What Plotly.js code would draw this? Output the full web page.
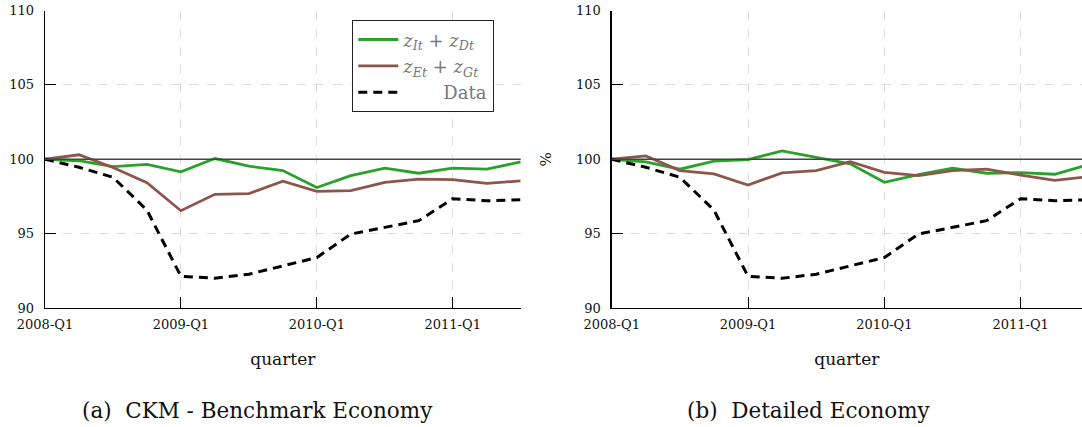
<!DOCTYPE html>
<html>
<head>
<meta charset="utf-8">
<script src="https://cdn.plot.ly/plotly-3.0.1.min.js"></script>
<style>
html,body{margin:0;padding:0;background:#fff;overflow:hidden;}
#chart{width:1082px;height:427px;}
</style>
</head>
<body>
<div id="chart"></div>
<script>
// ---- data ----
const quarters = ['2008-Q1','2008-Q2','2008-Q3','2008-Q4','2009-Q1','2009-Q2','2009-Q3','2009-Q4',
                  '2010-Q1','2010-Q2','2010-Q3','2010-Q4','2011-Q1','2011-Q2','2011-Q3'];
const tickLabels = ['2008-Q1','2009-Q1','2010-Q1','2011-Q1'];
const yTicks = [90, 95, 100, 105, 110];

const dataSeries = [100, 99.46, 98.79, 96.58, 92.13, 92.0, 92.27, 92.83, 93.39, 94.97, 95.42, 95.87, 97.35, 97.21, 97.28];

const ckmID = [100, 99.9, 99.5, 99.65, 99.15, 100.05, 99.53, 99.24, 98.1, 98.9, 99.4, 99.06, 99.4, 99.33, 99.82];
const ckmEG = [100, 100.3, 99.45, 98.43, 96.54, 97.64, 97.69, 98.52, 97.84, 97.89, 98.45, 98.67, 98.63, 98.38, 98.54];

const detID = [100, 99.82, 99.33, 99.87, 99.98, 100.56, 100.13, 99.69, 98.45, 98.97, 99.4, 99.06, 99.1, 98.99, 99.65];
const detEG = [100, 100.22, 99.24, 99.01, 98.27, 99.08, 99.24, 99.84, 99.12, 98.9, 99.24, 99.33, 98.94, 98.58, 98.83];

const nameID = '<i>z</i><sub><i>It</i></sub> + <i>z</i><sub><i>Dt</i></sub>';
const nameEG = '<i>z</i><sub><i>Et</i></sub> + <i>z</i><sub><i>Gt</i></sub>';
const nameData = '\u00a0\u00a0\u00a0\u00a0\u00a0\u00a0\u00a0Data';

// ---- styles ----
const GREEN = '#2ca02c', BROWN = '#8c564b';
const FONT = 'DejaVu Serif';

function traces(xa, ya, id, eg, show) {
  return [
    {x: quarters, y: id, xaxis: xa, yaxis: ya, type: 'scatter', mode: 'lines', name: nameID,
     line: {color: GREEN, width: 2.8}, showlegend: show, legendrank: 1},
    {x: quarters, y: eg, xaxis: xa, yaxis: ya, type: 'scatter', mode: 'lines', name: nameEG,
     line: {color: BROWN, width: 2.8}, showlegend: show, legendrank: 2},
    {x: quarters, y: dataSeries, xaxis: xa, yaxis: ya, type: 'scatter', mode: 'lines', name: nameData,
     line: {color: '#000', width: 3, dash: '9px,6px'}, showlegend: show, legendrank: 3}
  ];
}

const W = 1082, H = 427;
const yDom = [(H - 308) / H, (H - 10.5) / H];

function xaxis(dom, rangeEnd) {
  return {
    type: 'category', categoryorder: 'array', categoryarray: quarters,
    domain: dom, range: [0, rangeEnd],
    tickmode: 'array', tickvals: tickLabels, ticktext: tickLabels,
    ticks: 'inside', ticklen: 11, tickwidth: 1, tickcolor: '#000',
    showline: true, linecolor: '#000', linewidth: 1.3,
    showgrid: true, gridcolor: '#dcdcdc', griddash: 'dash', gridwidth: 1,
    zeroline: false,
    tickfont: {family: FONT, size: 13, color: '#111'},
    ticklabelstandoff: 4,
    title: {text: 'quarter', font: {family: FONT, size: 17, color: '#111'}, standoff: 22},
    automargin: false
  };
}
function yaxis(anchor, title) {
  const ax = {
    anchor: anchor, domain: yDom, range: [90, 110],
    tickmode: 'array', tickvals: yTicks,
    ticks: 'inside', ticklen: 11, tickwidth: 1, tickcolor: '#000',
    showline: true, linecolor: '#000', linewidth: 1.3,
    showgrid: true, gridcolor: '#dcdcdc', griddash: 'dash', gridwidth: 1,
    zeroline: false,
    tickfont: {family: FONT, size: 13, color: '#111'},
    ticklabelstandoff: 7,
    automargin: false
  };
  if (title) ax.title = {text: title, font: {family: FONT, size: 15, color: '#111'}, standoff: 20};
  return ax;
}

const layout = {
  width: W, height: H,
  margin: {l: 0, r: 0, t: 0, b: 0},
  paper_bgcolor: '#fff', plot_bgcolor: '#fff',
  showlegend: true,
  xaxis: xaxis([45 / W, 520.7 / W], 14),
  yaxis: yaxis('x', null),
  xaxis2: Object.assign(xaxis([611.7 / W, 1], 13.8), {anchor: 'y2'}),
  yaxis2: yaxis('x2', '%'),
  legend: {
    x: 352 / W, y: (H - 20) / H, xanchor: 'left', yanchor: 'top',
    bgcolor: '#fff', bordercolor: '#222', borderwidth: 1.3,
    font: {family: FONT, size: 18, color: '#777'},
    tracegroupgap: 0, itemwidth: 40
  },
  shapes: [
    {type: 'line', xref: 'x domain', yref: 'y', x0: 0, x1: 1, y0: 100, y1: 100,
     line: {color: '#444', width: 1.5}, layer: 'above'},
    {type: 'line', xref: 'x2 domain', yref: 'y2', x0: 0, x1: 1, y0: 100, y1: 100,
     line: {color: '#444', width: 1.5}, layer: 'above'}
  ],
  annotations: [
    {text: '(a)\u00a0 CKM - Benchmark Economy', xref: 'paper', yref: 'paper',
     x: 257 / W, y: (H - 410) / H, xanchor: 'center', yanchor: 'middle', showarrow: false,
     font: {family: FONT, size: 21.5, color: '#111'}},
    {text: '(b)\u00a0 Detailed Economy', xref: 'paper', yref: 'paper',
     x: 809 / W, y: (H - 410) / H, xanchor: 'center', yanchor: 'middle', showarrow: false,
     font: {family: FONT, size: 21.5, color: '#111'}}
  ]
};

const allTraces = traces('x', 'y', ckmID, ckmEG, true).concat(traces('x2', 'y2', detID, detEG, false));
Plotly.newPlot('chart', allTraces, layout, {displayModeBar: false, staticPlot: true});
</script>
</body>
</html>
